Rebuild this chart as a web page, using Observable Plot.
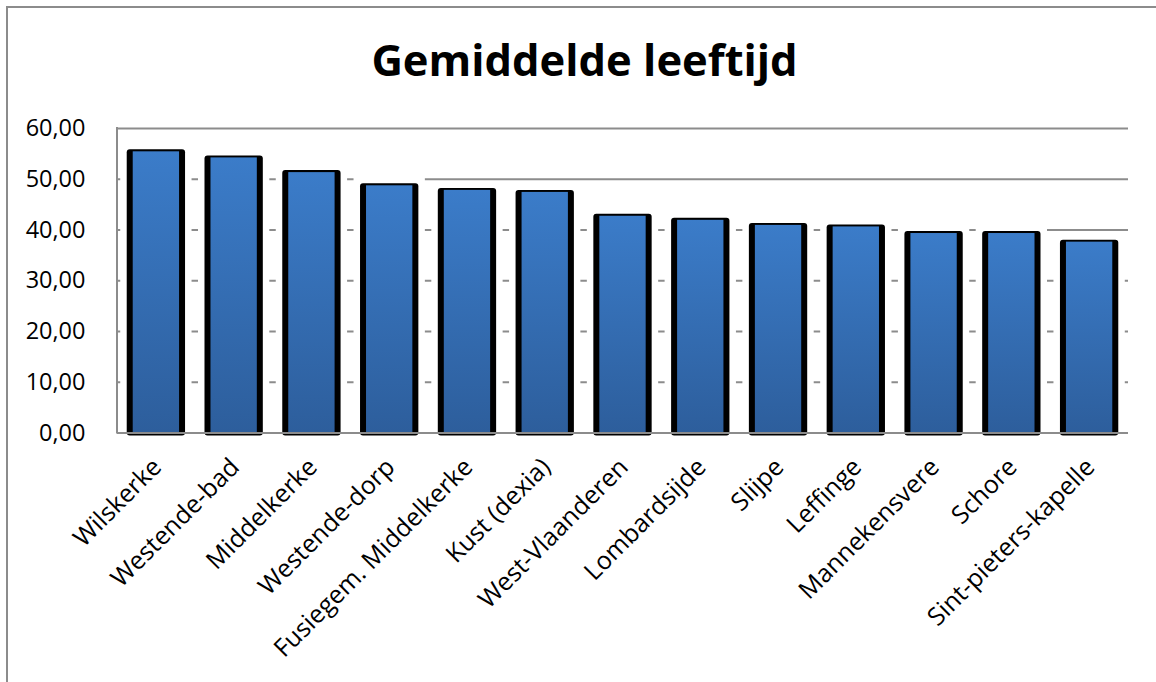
<!DOCTYPE html>
<html>
<head>
<meta charset="utf-8">
<script src="https://cdn.jsdelivr.net/npm/d3@7"></script>
<script src="https://cdn.jsdelivr.net/npm/@observablehq/plot@0.6"></script>
<style>
  html, body { margin: 0; padding: 0; background: #fff; }
  #page { position: relative; width: 1156px; height: 682px; overflow: hidden; background: #fff; }
  #border { position: absolute; left: 6px; top: 6px; width: 1300px; height: 800px;
            border-left: 2px solid #8c8c8c; border-top: 2px solid #8c8c8c; box-sizing: border-box; }
  #title { position: absolute; left: 0; top: 38px; width: 1169px; text-align: center;
           font-family: "Open Sans", sans-serif; font-weight: 700; font-size: 43.5px; line-height: 43.5px; color: #000; }
  #chart { position: absolute; left: 0; top: 100px; }
</style>
</head>
<body>
<div id="page">
  <div id="border"></div>
  <div id="title">Gemiddelde leeftijd</div>
  <div id="chart"></div>
</div>
<script>
const categories = ["Wilskerke", "Westende-bad", "Middelkerke", "Westende-dorp", "Fusiegem. Middelkerke",
  "Kust (dexia)", "West-Vlaanderen", "Lombardsijde", "Slijpe", "Leffinge", "Mannekensvere", "Schore",
  "Sint-pieters-kapelle"];
const values = [55.8, 54.6, 51.7, 49.1, 48.2, 47.8, 43.1, 42.3, 41.3, 41.0, 39.7, 39.7, 38.0];
const yTicks = [0, 10, 20, 30, 40, 50, 60];

const data = categories.map((name, i) => ({name, value: values[i]}));
// the 3D depth of each bar hides the back-wall gridlines slightly above and beside it
const depth = 1.2;
const masks = data.map(d => ({name: d.name, top: d.value + depth}));

const grid = "#8c8c8c";

const leftAxisLine = (index, scales, values, dimensions) => {
  const {marginLeft, marginTop, marginBottom, height} = dimensions;
  const line = document.createElementNS("http://www.w3.org/2000/svg", "line");
  line.setAttribute("x1", marginLeft);
  line.setAttribute("x2", marginLeft);
  line.setAttribute("y1", marginTop - 1);
  line.setAttribute("y2", height - marginBottom + 1);
  line.setAttribute("stroke", grid);
  line.setAttribute("stroke-width", 2);
  return line;
};

const chart = Plot.plot({
  width: 1156,
  height: 582,
  marginTop: 28,
  marginBottom: 249.5,
  marginLeft: 117,
  marginRight: 28,
  style: {fontFamily: "Open Sans, sans-serif", fontSize: "23.5px", color: "#000", background: "transparent"},
  x: {domain: categories, paddingInner: 0.25, paddingOuter: 0.125, round: false, axis: null},
  y: {domain: [0, 60], ticks: yTicks, tickFormat: d => d.toFixed(2).replace(".", ","),
      tickSize: 0, tickPadding: 32, label: null},
  marks: [
    Plot.ruleY(yTicks.filter(d => d > 0), {stroke: grid, strokeWidth: 2}),
    Plot.barY(masks, {x: "name", y: "top", fill: "#fff", insetLeft: -6.5, insetRight: -6.5}),
    Plot.barY(data, {x: "name", y: "value", fill: "#000", rx: 3, insetBottom: -3}),
    Plot.barY(data, {x: "name", y: "value", fill: "url(#barGrad)", insetLeft: 6, insetRight: 6, insetTop: 2}),
    Plot.ruleY([0], {stroke: grid, strokeWidth: 2}),
    leftAxisLine,
    Plot.text(data, {x: "name", frameAnchor: "bottom", text: "name", rotate: -45, textAnchor: "end",
      lineAnchor: "middle", dx: 1, dy: 30, fontSize: 25, fill: "#000"})
  ]
});

const defs = d3.select(chart).insert("defs", ":first-child");
const grad = defs.append("linearGradient").attr("id", "barGrad")
  .attr("x1", 0).attr("y1", 0).attr("x2", 0).attr("y2", 1);
grad.append("stop").attr("offset", "0%").attr("stop-color", "#3b7cc9");
grad.append("stop").attr("offset", "100%").attr("stop-color", "#2d5e9c");

document.getElementById("chart").appendChild(chart);
</script>
</body>
</html>
